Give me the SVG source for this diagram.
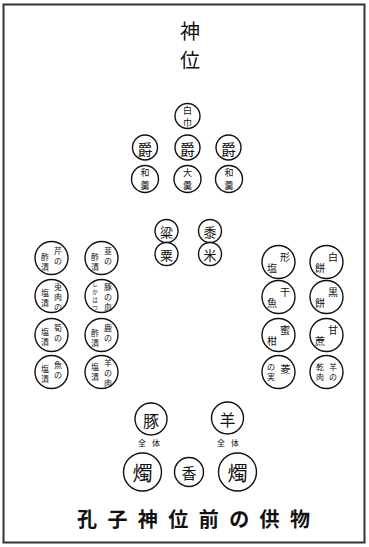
<svg xmlns="http://www.w3.org/2000/svg" width="369" height="547" viewBox="0 0 369 547">
<style>
.c{fill:#fff;stroke:#111;stroke-width:1.4}
.t{font-family:"Noto Sans CJK JP","Noto Sans CJK SC",sans-serif;fill:#111;text-anchor:middle;dominant-baseline:central}
.s9{font-size:8px}
.s6{font-size:5.5px}
.s10{font-size:10px}
.s95{font-size:9px}
.s13{font-size:13px}
.s15{font-size:15px}
</style>
<rect x="0" y="0" width="369" height="547" fill="#fff"/>
<rect x="3.5" y="4.5" width="361" height="538" fill="none" stroke="#333" stroke-width="2"/>

<g id="shini">
<text class="t" x="190" y="30" font-size="20">神</text>
<text class="t" x="190" y="59" font-size="20">位</text>
</g>

<g id="hakukin"><circle class="c" cx="187.5" cy="116" r="12.5"/><text class="t s95" x="187.5" y="110">白</text><text class="t s95" x="187.5" y="122.2">巾</text></g>
<g id="shaku1"><circle class="c" cx="145" cy="147.5" r="12.5"/><text class="t s15" x="145" y="148">爵</text></g>
<g id="shaku2"><circle class="c" cx="187.5" cy="147.5" r="12.5"/><text class="t s15" x="187.5" y="148">爵</text></g>
<g id="shaku3"><circle class="c" cx="228.5" cy="147.5" r="12.5"/><text class="t s15" x="228.5" y="148">爵</text></g>
<g id="wakou1"><circle class="c" cx="145" cy="179" r="13.5"/><text class="t s95" x="145" y="172.8">和</text><text class="t s95" x="145" y="185.2">羹</text></g>
<g id="taikou"><circle class="c" cx="187.5" cy="179" r="13.5"/><text class="t s95" x="187.5" y="172.8">大</text><text class="t s95" x="187.5" y="185.2">羹</text></g>
<g id="wakou2"><circle class="c" cx="229" cy="179" r="13.5"/><text class="t s95" x="229" y="172.8">和</text><text class="t s95" x="229" y="185.2">羹</text></g>

<g id="ryou"><circle class="c" cx="166.5" cy="231" r="11.5"/><text class="t s13" x="166.5" y="231.5">粱</text></g>
<g id="zoku"><circle class="c" cx="166.5" cy="254" r="11.5"/><text class="t s13" x="166.5" y="254.5">粟</text></g>
<g id="sho"><circle class="c" cx="210" cy="231" r="11.5"/><text class="t s13" x="210" y="231.5">黍</text></g>
<g id="kome"><circle class="c" cx="210" cy="254" r="11.5"/><text class="t s13" x="210" y="254.5">米</text></g>

<!-- left group, column 1 -->
<g id="L1"><circle class="c" cx="51.5" cy="258" r="16.5"/>
<text class="t s9" x="58" y="250">芹</text><text class="t s9" x="58" y="260">の</text>
<text class="t s9" x="45" y="256">酢</text><text class="t s9" x="45" y="266">漬</text></g>
<g id="L2"><circle class="c" cx="51.5" cy="296" r="16.5"/>
<text class="t s9" x="58" y="286">兎</text><text class="t s9" x="58" y="296">肉</text><text class="t s9" x="58" y="306">の</text>
<text class="t s9" x="45" y="292">塩</text><text class="t s9" x="45" y="302">漬</text></g>
<g id="L3"><circle class="c" cx="51.5" cy="335" r="16.5"/>
<text class="t s9" x="58" y="327">筍</text><text class="t s9" x="58" y="337">の</text>
<text class="t s9" x="45" y="331">塩</text><text class="t s9" x="45" y="341">漬</text></g>
<g id="L4"><circle class="c" cx="51.5" cy="372" r="16.5"/>
<text class="t s9" x="58" y="364">魚</text><text class="t s9" x="58" y="374">の</text>
<text class="t s9" x="45" y="368">塩</text><text class="t s9" x="45" y="378">漬</text></g>

<!-- left group, column 2 -->
<g id="L5"><circle class="c" cx="101.5" cy="258" r="16.5"/>
<text class="t s9" x="108" y="250">韮</text><text class="t s9" x="108" y="260">の</text>
<text class="t s9" x="95" y="256">酢</text><text class="t s9" x="95" y="266">漬</text></g>
<g id="L6"><circle class="c" cx="101.5" cy="296" r="16.5"/>
<text class="t s9" x="108" y="286">豚</text><text class="t s9" x="108" y="296">の</text><text class="t s9" x="108" y="306">血</text>
<text class="t s6" x="95" y="284">し</text><text class="t s6" x="95" y="292">か</text><text class="t s6" x="95" y="300">は</text><text class="t s6" x="95" y="308">つ</text></g>
<g id="L7"><circle class="c" cx="101.5" cy="335" r="16.5"/>
<text class="t s9" x="108" y="327">鹿</text><text class="t s9" x="108" y="337">の</text>
<text class="t s9" x="95" y="332">酢</text><text class="t s9" x="95" y="342">漬</text></g>
<g id="L8"><circle class="c" cx="101.5" cy="372" r="16.5"/>
<text class="t s9" x="108" y="362">羊</text><text class="t s9" x="108" y="372">の</text><text class="t s9" x="108" y="382">肉</text>
<text class="t s9" x="95" y="366">塩</text><text class="t s9" x="95" y="376">漬</text></g>

<!-- right group, column 1 -->
<g id="R1"><circle class="c" cx="278.5" cy="262" r="16.5"/>
<text class="t s10" x="285" y="256">形</text>
<text class="t s10" x="272" y="267">塩</text></g>
<g id="R2"><circle class="c" cx="278.5" cy="297" r="16.5"/>
<text class="t s10" x="285" y="291">干</text>
<text class="t s10" x="272" y="302">魚</text></g>
<g id="R3"><circle class="c" cx="278.5" cy="335" r="16.5"/>
<text class="t s10" x="285" y="329">蜜</text>
<text class="t s10" x="272" y="340">柑</text></g>
<g id="R4"><circle class="c" cx="278.5" cy="372" r="16.5"/>
<text class="t s10" x="285.5" y="368">菱</text>
<text class="t s9" x="271" y="366">の</text><text class="t s9" x="271" y="376">実</text></g>

<!-- right group, column 2 -->
<g id="R5"><circle class="c" cx="326.5" cy="262" r="16.5"/>
<text class="t s10" x="333" y="256">白</text>
<text class="t s10" x="320" y="267">餅</text></g>
<g id="R6"><circle class="c" cx="326.5" cy="297" r="16.5"/>
<text class="t s10" x="333" y="291">黒</text>
<text class="t s10" x="320" y="302">餅</text></g>
<g id="R7"><circle class="c" cx="326.5" cy="335" r="16.5"/>
<text class="t s10" x="333" y="329">甘</text>
<text class="t s10" x="320" y="340">蔗</text></g>
<g id="R8"><circle class="c" cx="326.5" cy="372" r="16.5"/>
<text class="t s9" x="333" y="366">羊</text><text class="t s9" x="333" y="376">の</text>
<text class="t s9" x="320" y="366">乾</text><text class="t s9" x="320" y="376">肉</text></g>

<!-- bottom -->
<g id="buta"><circle class="c" cx="151" cy="419" r="16"/><text class="t" font-size="16" x="151" y="419.5">豚</text>
<text class="t s9" x="152" y="442" letter-spacing="6">全体</text></g>
<g id="hitsuji"><circle class="c" cx="227.5" cy="418" r="16"/><text class="t" font-size="16" x="227.5" y="418.5">羊</text>
<text class="t s9" x="231" y="442" letter-spacing="6">全体</text></g>
<g id="shoku1"><circle class="c" cx="142.5" cy="472" r="19"/><text class="t" font-size="20" x="142.5" y="472.5">燭</text></g>
<g id="kou"><circle class="c" cx="189" cy="472" r="14.5"/><text class="t s15" x="189" y="472.5">香</text></g>
<g id="shoku2"><circle class="c" cx="237.5" cy="472" r="19"/><text class="t" font-size="20" x="237.5" y="472.5">燭</text></g>

<g id="title">
<text class="t" x="77" y="518" font-size="20" font-weight="700" style="text-anchor:start" textLength="233" lengthAdjust="spacing">孔子神位前の供物</text>
</g>
</svg>
